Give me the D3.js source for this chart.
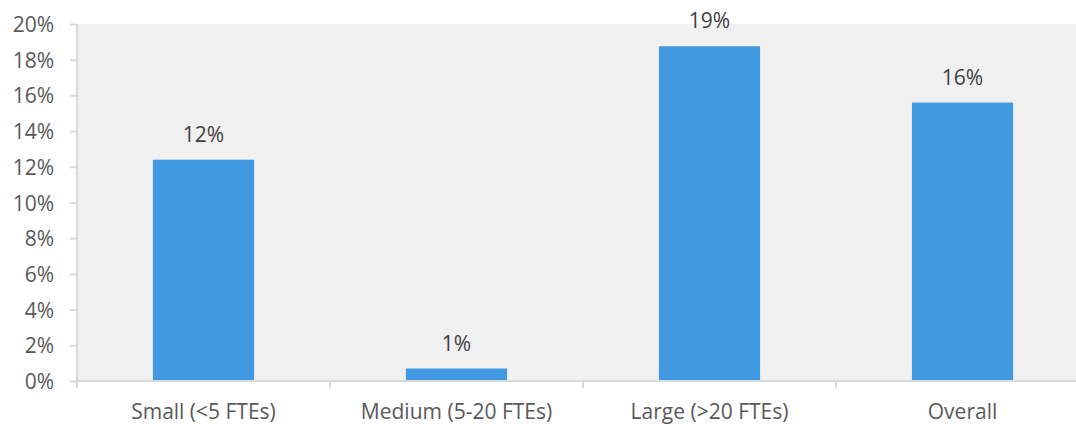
<!DOCTYPE html>
<html><head><meta charset="utf-8">
<script src="https://cdn.jsdelivr.net/npm/d3@7"></script>
<style>body{margin:0;background:#fff}svg{display:block}</style>
</head><body>
<svg id="c" width="1076" height="424"></svg>
<script>
const categories = ["Small (<5 FTEs)", "Medium (5-20 FTEs)", "Large (>20 FTEs)", "Overall"];
const values = [0.124, 0.007, 0.1875, 0.156];
const valueLabels = ["12%", "1%", "19%", "16%"];
const yTicks = [0, 0.02, 0.04, 0.06, 0.08, 0.10, 0.12, 0.14, 0.16, 0.18, 0.20];

(function () {
const svg = d3.select("#c");
const font = "'Open Sans', sans-serif";
const fs = 21;
const pL = 77, pR = 1089, pT = 24, pB = 381;

const x = d3.scaleBand().domain(categories).range([pL, pR]).paddingInner(0.6).paddingOuter(0.3);
const xb = d3.scaleBand().domain(categories).range([pL, pR]);
const y = d3.scaleLinear().domain([0, 0.2]).range([pB, pT]);

svg.append("rect").attr("x", pL).attr("y", pT).attr("width", pR - pL).attr("height", pB - pT).attr("fill", "#f0f0f0");

svg.selectAll("rect.bar").data(values).join("rect").attr("class", "bar")
  .attr("x", (d, i) => x(categories[i]))
  .attr("width", x.bandwidth())
  .attr("y", d => y(d))
  .attr("height", d => pB - y(d))
  .attr("fill", "#4199e1");

svg.selectAll("text.val").data(values).join("text").attr("class", "val")
  .attr("x", (d, i) => x(categories[i]) + x.bandwidth() / 2)
  .attr("y", d => y(d) - 18)
  .attr("text-anchor", "middle")
  .attr("font-family", font).attr("font-size", fs).attr("fill", "#404040")
  .text((d, i) => valueLabels[i]);

const ya = svg.append("g").attr("transform", `translate(${pL},0)`)
  .call(d3.axisLeft(y).tickValues(yTicks).tickFormat(d3.format(".0%")).tickSize(7).tickPadding(16));
ya.select(".domain").attr("stroke", "#d9d9d9").attr("stroke-width", 2).attr("d", `M0,${pT}V${pB}`);
ya.selectAll(".tick line").attr("stroke", "#d9d9d9").attr("stroke-width", 2);
ya.selectAll(".tick text").attr("font-family", font).attr("font-size", fs).attr("fill", "#595959").attr("dy", "0.36em");

const xa = svg.append("g").attr("transform", `translate(0,${pB})`)
  .call(d3.axisBottom(xb).tickSize(0).tickPadding(22));
xa.select(".domain").attr("stroke", "#d9d9d9").attr("stroke-width", 2).attr("d", `M${pL},0H${pR}`);
xa.selectAll(".tick text").attr("font-family", font).attr("font-size", fs).attr("fill", "#595959").attr("y", 38).attr("dy", null);
const seps = categories.map((c) => xb(c)).concat([pR]);
xa.selectAll("line.sep").data(seps).join("line").attr("class", "sep")
  .attr("x1", d => d).attr("x2", d => d).attr("y1", 0).attr("y2", 7)
  .attr("stroke", "#d9d9d9").attr("stroke-width", 2);
})();
</script>
</body></html>
